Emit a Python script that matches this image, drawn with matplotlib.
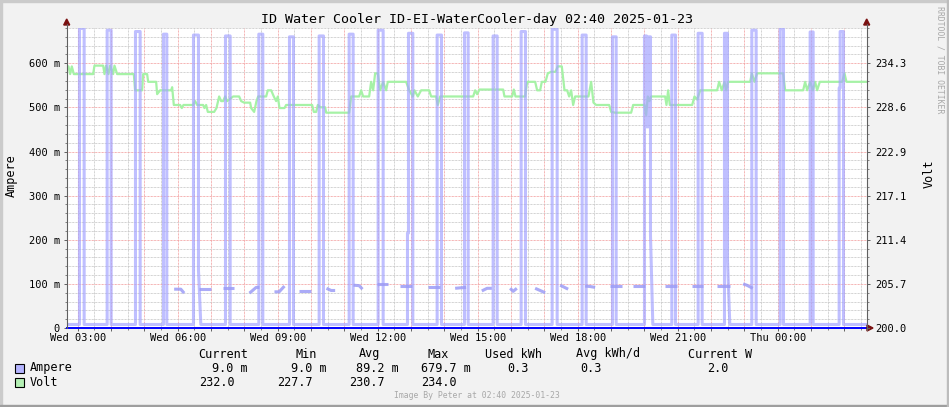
import matplotlib
matplotlib.use("Agg")
import matplotlib.pyplot as plt
from matplotlib.patches import Polygon, Rectangle
from matplotlib.lines import Line2D
from matplotlib.ticker import FixedLocator, MultipleLocator

plt.rcParams['font.family'] = ['DejaVu Sans Mono']

W, H = 949, 407

# time is in hours since Wed 00:00, graph spans 02:40 Wed -> 02:40 Thu
t_start, t_end = 2 + 40 / 60, 26 + 40 / 60

# --- Volt trace (V) ---
volt_t = [2.67, 2.72, 2.77, 2.82, 2.88, 3.46, 3.50, 3.76, 3.80, 3.85,
          3.92, 3.97, 4.06, 4.10, 4.18, 4.68, 4.72, 4.93, 4.96, 5.08,
          5.11, 5.35, 5.38, 5.47, 5.80, 5.83, 5.88, 6.07, 6.12, 6.17,
          6.46, 6.52, 6.58, 6.76, 6.80, 6.85, 6.90, 7.09, 7.16, 7.24,
          7.30, 7.36, 7.42, 7.48, 7.66, 7.84, 7.90, 7.99, 8.17, 8.20,
          8.29, 8.36, 8.41, 8.65, 8.70, 8.80, 8.88, 8.95, 9.00, 9.05,
          9.20, 9.25, 10.03, 10.08, 10.15, 10.20, 10.27, 10.42, 10.45, 11.14,
          11.20, 11.44, 11.50, 11.56, 11.74, 11.80, 11.86, 11.92, 12.00, 12.07,
          12.16, 12.25, 12.30, 12.85, 12.94, 13.05, 13.10, 13.20, 13.30, 13.54,
          13.60, 13.75, 13.80, 13.87, 14.86, 14.92, 14.98, 15.05, 15.76, 15.80,
          16.03, 16.08, 16.13, 16.42, 16.48, 16.72, 16.78, 16.87, 16.92, 17.03,
          17.10, 17.20, 17.33, 17.40, 17.52, 17.60, 17.68, 17.74, 17.80, 17.86,
          17.92, 18.32, 18.40, 18.47, 18.55, 18.94, 19.00, 19.12, 19.60, 19.66,
          20.00, 20.05, 20.10, 20.15, 20.20, 20.62, 20.66, 20.71, 20.76, 21.43,
          21.50, 21.58, 21.67, 22.18, 22.24, 22.32, 22.40, 22.45, 22.51, 23.17,
          23.22, 23.30, 23.38, 24.16, 24.22, 24.76, 24.82, 24.88, 24.97, 25.05,
          25.12, 25.18, 25.26, 25.93, 26.00, 26.06, 26.67]
volt_v = [233.9, 233.9, 232.9, 233.9, 232.9, 232.9, 234.0, 234.0, 232.9, 234.0,
          232.9, 234.0, 232.9, 234.0, 232.9, 232.9, 230.8, 230.8, 232.9, 232.9,
          231.9, 231.9, 230.3, 230.8, 230.8, 231.2, 228.9, 228.9, 228.5, 228.9,
          228.9, 229.4, 228.9, 228.9, 228.5, 228.9, 228.0, 228.0, 228.5, 230.0,
          229.4, 229.4, 230.0, 229.4, 230.0, 230.0, 229.4, 229.2, 229.2, 228.5,
          228.0, 229.4, 230.0, 230.0, 230.8, 230.8, 230.0, 229.4, 230.0, 228.5,
          228.5, 228.9, 228.9, 228.0, 228.0, 228.9, 228.6, 228.6, 227.9, 227.9,
          230.0, 230.0, 230.8, 230.0, 230.0, 231.9, 230.8, 233.0, 233.0, 230.8,
          231.9, 230.8, 231.9, 231.9, 230.8, 230.0, 230.8, 230.0, 230.8, 230.8,
          230.0, 230.0, 228.9, 230.0, 230.0, 230.8, 230.3, 230.9, 230.9, 230.0,
          230.0, 230.9, 230.0, 230.0, 231.9, 231.9, 230.8, 230.8, 231.9, 231.9,
          233.0, 233.2, 233.2, 233.9, 233.9, 230.8, 230.8, 230.0, 230.8, 228.9,
          230.0, 230.0, 231.9, 229.2, 228.9, 228.9, 228.0, 227.9, 227.9, 228.9,
          228.9, 227.6, 230.0, 229.4, 230.0, 230.0, 228.9, 230.8, 228.9, 228.9,
          230.0, 229.6, 230.8, 230.8, 231.9, 230.8, 231.9, 230.8, 231.9, 231.9,
          233.0, 231.9, 233.0, 233.0, 230.8, 230.8, 231.9, 230.8, 231.9, 230.8,
          231.9, 230.8, 231.9, 231.9, 233.0, 231.9, 231.9]

# --- Ampere trace (mA): compressor pulses ---
amp_base = 8.0
pulse_on = [3.05, 3.88, 4.73, 5.57, 6.47, 7.43, 8.43, 9.35, 10.24, 11.14,
            12.01, 12.92, 13.78, 14.60, 15.46, 16.30, 17.23, 18.13, 19.04, 20.00,
            20.12, 20.82, 21.61, 22.40, 23.22, 24.07, 24.97, 25.87]
pulse_off = [3.19, 4.00, 4.87, 5.67, 6.62, 7.57, 8.55, 9.47, 10.37, 11.26,
             12.16, 13.05, 13.91, 14.71, 15.58, 16.43, 17.38, 18.25, 19.15, 20.06,
             20.18, 20.93, 21.73, 22.49, 23.35, 24.17, 25.06, 25.97]
pulse_peak = [679, 675, 672, 666, 664, 662, 666, 660, 662, 666,
              675, 668, 664, 669, 662, 672, 677, 664, 660, 662,
              660, 664, 668, 668, 675, 678, 671, 672]
rise_kink = {11: 215, 27: 544}          # partial sample on the rising edge
fall_kink = {4: 131, 20: 211, 23: 154}  # partial sample on the falling edge
gap_floor = {19: 456}                   # double pulse around 20:00

# short segments around 90 mA between the pulses
dash_t = [[5.89, 6.09, 6.19], [6.63, 7.00], [7.35, 7.70], [8.15, 8.35, 8.45],
          [8.90, 9.04, 9.20], [9.64, 10.00], [10.46, 10.60, 10.72],
          [11.27, 11.44, 11.54], [11.97, 12.31], [12.67, 13.03], [13.51, 13.87],
          [14.32, 14.47, 14.65], [15.12, 15.28, 15.42], [15.97, 16.06, 16.17],
          [16.72, 17.02], [17.47, 17.71], [18.22, 18.37, 18.52], [18.97, 19.33],
          [19.66, 20.02], [20.62, 20.97], [21.42, 21.77], [22.17, 22.57],
          [22.96, 23.07, 23.25]]
dash_ma = [[88, 88, 79], [88, 88], [90, 90], [79, 92, 92],
           [82, 82, 95], [84, 84], [90, 85, 85],
           [97, 96, 88], [99, 99], [96, 96], [94, 94],
           [90, 91, 92], [84, 90, 90], [90, 83, 90],
           [90, 80], [97, 88], [95, 94, 92], [95, 95],
           [95, 95], [95, 95], [96, 96], [96, 96],
           [100, 97, 90]]

x_labels = ["Wed 03:00", "Wed 06:00", "Wed 09:00", "Wed 12:00",
            "Wed 15:00", "Wed 18:00", "Wed 21:00", "Thu 00:00"]
y_left_labels = ["0", "100 m", "200 m", "300 m", "400 m", "500 m", "600 m"]
y_right_labels = ["200.0", "205.7", "211.4", "217.1", "222.9", "228.6", "234.3"]

legend_cols = ["Current", "Min", "Avg", "Max", "Used kWh", "Avg kWh/d", "Current W"]
amp_stats = ["9.0 m", "9.0 m", "89.2 m", "679.7 m", "0.3", "0.3", "2.0"]
volt_stats = ["232.0", "227.7", "230.7", "234.0"]

volt_per_amp = 34.3 / 0.6   # right axis: 200 V + left * 57.17


def fx(x):
    return x / W


def fy(y):
    return 1 - y / H


# build the ampere step trace
amp_t, amp_v = [t_start], [amp_base]
for i in range(len(pulse_on)):
    on, off, pk = pulse_on[i], pulse_off[i], pulse_peak[i]
    low_before = gap_floor.get(i - 1, amp_base)
    if i in rise_kink:
        amp_t += [on - 0.03, on - 0.03, on]
        amp_v += [low_before, rise_kink[i], rise_kink[i]]
    else:
        amp_t.append(on)
        amp_v.append(low_before)
    amp_t += [on, off]
    amp_v += [pk, pk]
    low_after = gap_floor.get(i, amp_base)
    if i in fall_kink:
        amp_t += [off, off + 0.07]
        amp_v += [fall_kink[i], low_after]
    else:
        amp_t.append(off)
        amp_v.append(low_after)
amp_t.append(t_end)
amp_v.append(amp_base)

volt_scaled = [(v - 200) / volt_per_amp * 1000 for v in volt_v]

fig = plt.figure(figsize=(W / 100, H / 100), dpi=100, facecolor='#f2f2f2')
ax = fig.add_axes([fx(66.7), fy(328), 800 / W, 300 / H])
ax.set_facecolor('white')
ax.set_xlim(t_start, t_end)
ax.set_ylim(0, 680)

dot = (0, (0.72, 0.72))
ax.xaxis.set_major_locator(FixedLocator(list(range(3, 27))))
ax.xaxis.set_minor_locator(MultipleLocator(0.5))
ax.yaxis.set_major_locator(MultipleLocator(100))
ax.yaxis.set_minor_locator(MultipleLocator(20))
ax.grid(which='minor', color='#c4c4c4', lw=0.72, linestyle=dot, zorder=0)
ax.grid(which='major', color='#f29a9a', lw=0.72, linestyle=dot, zorder=0)
ax.set_axisbelow(True)

ax.set_xticklabels([x_labels[(h - 3) // 3] if h % 3 == 0 else "" for h in range(3, 27)])
ax.set_yticks(range(0, 700, 100))
ax.set_yticklabels(y_left_labels)
ax.tick_params(which='major', length=2.5, width=0.7, color='#606060',
               labelsize=7.5, pad=2.5)
ax.tick_params(which='minor', length=1.5, width=0.7, color='#808080')
ax.tick_params(axis='x', which='major', pad=1.2)
for s in ax.spines.values():
    s.set_visible(False)

ax.plot(volt_t, volt_scaled, color='#a6f2a6', lw=1.6, zorder=2)
ax.plot(amp_t, amp_v, color='#a4a4ff', alpha=0.7, lw=2.2, zorder=3)
for dt, dm in zip(dash_t, dash_ma):
    ax.plot(dt, dm, color='#9c9cf6', alpha=0.85, lw=2.2, zorder=3,
            solid_capstyle='butt')
ax.axhline(0, color='#0000ff', lw=1.4, zorder=5, clip_on=False)

ax2 = ax.twinx()
ax2.set_ylim(0, 680)
ax2.set_yticks(range(0, 700, 100))
ax2.set_yticklabels(y_right_labels)
ax2.yaxis.set_minor_locator(MultipleLocator(20))
ax2.tick_params(which='major', length=2.5, width=0.7, color='#606060',
                labelsize=7.5, pad=4)
ax2.tick_params(which='minor', length=1.5, width=0.7, color='#808080')
for s in ax2.spines.values():
    s.set_visible(False)

# axis lines and arrows
axis_col = '#606060'
arrow_col = '#7a1010'
fig.add_artist(Line2D([fx(66.7)] * 2, [fy(328), fy(24)], color=axis_col, lw=0.8,
                      transform=fig.transFigure))
fig.add_artist(Line2D([fx(866.7)] * 2, [fy(330), fy(24)], color=axis_col, lw=0.8,
                      transform=fig.transFigure))
fig.add_artist(Line2D([fx(866.7), fx(869)], [fy(328)] * 2, color=axis_col, lw=0.8,
                      transform=fig.transFigure))
for xa in (66.7, 866.7):
    fig.add_artist(Polygon([(fx(xa - 3), fy(25)), (fx(xa + 3), fy(25)), (fx(xa), fy(19))],
                           closed=True, color=arrow_col, transform=fig.transFigure))
fig.add_artist(Polygon([(fx(867), fy(325)), (fx(867), fy(331)), (fx(873), fy(328))],
                       closed=True, color=arrow_col, transform=fig.transFigure))

# frame
fig.add_artist(Rectangle((0, fy(2)), 1, 2 / H, color='#cbcbcb', transform=fig.transFigure))
fig.add_artist(Rectangle((0, 0), 2 / W, 1, color='#cbcbcb', transform=fig.transFigure))
fig.add_artist(Rectangle((0, 0), 1, 2 / H, color='#9e9e9e', transform=fig.transFigure))
fig.add_artist(Rectangle((1 - 2 / W, 0), 2 / W, 1, color='#bcbcbc', transform=fig.transFigure))

# texts
fig.text(fx(477), fy(19), "ID Water Cooler ID-EI-WaterCooler-day 02:40 2025-01-23",
         ha='center', va='center', fontsize=9.6)
fig.text(fx(11), fy(176), "Ampere", rotation=90, ha='center', va='center', fontsize=8.5)
fig.text(fx(929), fy(174), "Volt", rotation=90, ha='center', va='center', fontsize=8.5)
fig.text(fx(940), fy(6), "RRDTOOL / TOBI OETIKER", rotation=-90, ha='center', va='top',
         fontsize=5.9, color='#a8a8a8')
fig.text(fx(477), fy(396), "Image By Peter at 02:40 2025-01-23", ha='center', va='center',
         fontsize=5.9, color='#a8a8a8')

col_left = [198, 296, 359, 428, 485, 576, 688]
for name, xl in zip(legend_cols, col_left):
    fig.text(fx(xl), fy(354), name, ha='left', va='center', fontsize=8.5)

amp_right = [248, 327, 399, 471, 529, 602, 729]
volt_right = [235, 313, 385, 457]
fig.add_artist(Rectangle((fx(15), fy(372.5)), 9 / W, 9 / H, facecolor='#b4b4ff',
                         edgecolor='black', lw=0.8, transform=fig.transFigure))
fig.add_artist(Rectangle((fx(15), fy(386.5)), 9 / W, 9 / H, facecolor='#b4f0b4',
                         edgecolor='black', lw=0.8, transform=fig.transFigure))
fig.text(fx(30), fy(368), "Ampere", ha='left', va='center', fontsize=8.5)
fig.text(fx(30), fy(382), "Volt", ha='left', va='center', fontsize=8.5)
for val, xr in zip(amp_stats, amp_right):
    fig.text(fx(xr), fy(368), val, ha='right', va='center', fontsize=8.5)
for val, xr in zip(volt_stats, volt_right):
    fig.text(fx(xr), fy(382), val, ha='right', va='center', fontsize=8.5)

fig.savefig("out.png", dpi=100, facecolor=fig.get_facecolor())
